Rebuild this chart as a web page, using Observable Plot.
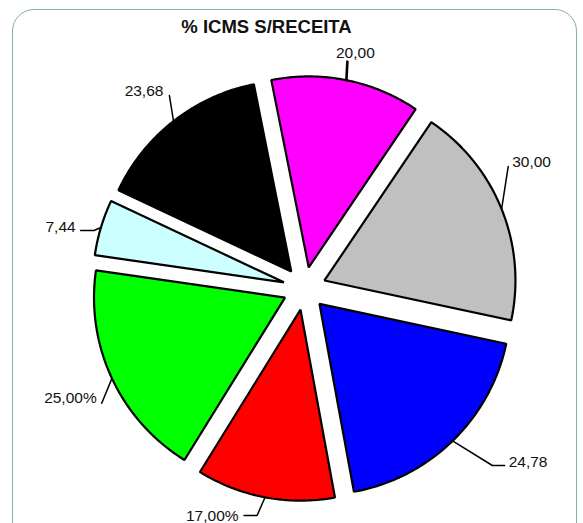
<!DOCTYPE html>
<html><head><meta charset="utf-8">
<script src="https://cdn.jsdelivr.net/npm/d3@7"></script>
<script src="https://cdn.jsdelivr.net/npm/@observablehq/plot@0.6"></script>
<style>
html,body{margin:0;padding:0;background:#fff;overflow:hidden}
#wrap{position:relative;width:583px;height:523px;overflow:hidden;background:#fff}
#frame{position:absolute;left:11.5px;top:9.3px;width:565px;height:620px;border:1.5px solid #88b0a2;border-radius:22px;box-sizing:border-box}
#chart{position:absolute;left:0;top:0}
</style></head><body>
<div id="wrap"><div id="frame"></div><div id="chart"></div></div>
<script>
// ---- data ----
const title = "% ICMS S/RECEITA";
const categories = ["Fatia 1", "Fatia 2", "Fatia 3", "Fatia 4", "Fatia 5", "Fatia 6", "Fatia 7"];
// slice sizes (angles), in the labels' units
const values = [20.0, 30.0, 29.8, 18.6, 29.3, 7.5, 23.6];
// texts printed next to the slices
const labels = ["20,00", "30,00", "24,78", "17,00%", "25,00%", "7,44", "23,68"];
const colors = ["#ff00ff", "#c0c0c0", "#0000ff", "#ff0000", "#00ff00", "#ccffff", "#000000"];

// ---- layout ----
const W = 583, H = 523;
const cx = 304, cy = 288, R = 191, explode = 21.5;
const startDeg = -11.3;
// label leader: [angle deg (clockwise from north), radius from center, horizontal tail, text anchor, dx, dy, leader width]
const labelLayout = [
  [10.7, 231, 0, "middle", 8, -4, 2.6],
  [59.1, 237.4, 0, "start", 4, 0, 1.5],
  [133.3, 258.1, 12.3, "start", 4, 1, 1.5],
  [191.8, 231.9, -13, "end", -5.5, 6, 1.5],
  [240.5, 233, 0, "end", -5, 0, 1.5],
  [285.4, 218.4, -13.3, "end", -5, 1, 1.5],
  [325, 235.5, 0, "end", -6, 0, 1.5]
];

const rad = Math.PI / 180;
const table = categories.map((c, i) => ({id: c, value: values[i], label: labels[i], color: colors[i]}));
const arcs = d3.pie().sort(null).value(d => d.value)
  .startAngle(startDeg * rad).endAngle(startDeg * rad + 2 * Math.PI)(table);

const slicePts = [];
const leaderPts = [];
const textRows = [];
arcs.forEach((a, i) => {
  const mid = (a.startAngle + a.endAngle) / 2;
  const ox = cx + explode * Math.sin(mid), oy = cy - explode * Math.cos(mid);
  slicePts.push({id: a.data.id, color: a.data.color, x: ox, y: oy});
  const n = 80;
  for (let k = 0; k <= n; k++) {
    const t = a.startAngle + (a.endAngle - a.startAngle) * k / n;
    slicePts.push({id: a.data.id, color: a.data.color, x: ox + R * Math.sin(t), y: oy - R * Math.cos(t)});
  }
  const [ang, rr, tail, anchor, dx, dy, sw] = labelLayout[i];
  const sx = cx + (R + explode) * Math.sin(mid), sy = cy - (R + explode) * Math.cos(mid);
  const ex = cx + rr * Math.sin(ang * rad), ey = cy - rr * Math.cos(ang * rad);
  leaderPts.push({id: a.data.id, sw, x: sx, y: sy});
  leaderPts.push({id: a.data.id, sw, x: ex, y: ey});
  if (tail) leaderPts.push({id: a.data.id, sw, x: ex + tail, y: ey});
  textRows.push({text: a.data.label, x: ex + tail, y: ey, anchor, dx, dy});
});

const textMarks = ["start", "middle", "end"].map(anc => {
  const rows = textRows.filter(r => r.anchor === anc);
  return rows.map(r => Plot.text([r], {x: "x", y: "y", text: "text", textAnchor: anc, lineAnchor: "bottom",
    dx: r.dx, dy: r.dy, fill: "#111", fontSize: 15.5}));
}).flat();

const chart = Plot.plot({
  width: W, height: H, margin: 0,
  x: {domain: [0, W], range: [0, W], axis: null},
  y: {domain: [0, H], range: [0, H], axis: null},
  color: {type: "identity"},
  style: {fontFamily: "'Liberation Sans', Arial, sans-serif", background: "transparent", overflow: "visible"},
  marks: [
    Plot.line(slicePts, {x: "x", y: "y", z: "id", fill: "color", stroke: "#000", strokeWidth: 2.2,
      curve: "linear-closed", strokeLinejoin: "miter"}),
    Plot.line(leaderPts.filter(d => d.sw > 2), {x: "x", y: "y", z: "id", stroke: "#000", strokeWidth: 2.6}),
    Plot.line(leaderPts.filter(d => d.sw <= 2), {x: "x", y: "y", z: "id", stroke: "#000", strokeWidth: 1.5}),
    ...textMarks,
    Plot.text([title], {frameAnchor: "top", dx: 266 - W / 2, dy: 32.3, lineAnchor: "bottom",
      fontWeight: "bold", fontSize: 18.5, fill: "#111"})
  ]
});
document.getElementById("chart").appendChild(chart);
</script>
</body></html>
